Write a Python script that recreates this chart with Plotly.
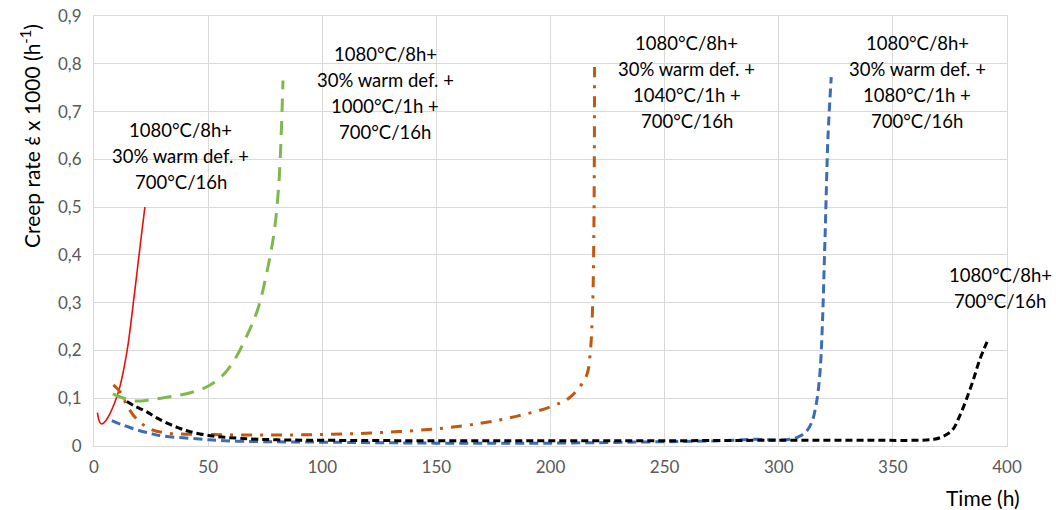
import plotly.graph_objects as go

# ---- data ----
red_x = [1.5, 2.5, 3.5, 5, 7, 9, 11, 13, 15, 17, 19, 21, 22.3]
red_y = [0.07, 0.05, 0.046, 0.052, 0.068, 0.09, 0.118, 0.16, 0.215, 0.29, 0.37, 0.45, 0.5]

green_x = [8.3, 13, 18.8, 25, 33, 41, 49.5, 56, 61, 67.5, 72, 76, 79, 81, 82, 82.5, 82.8]
green_y = [0.109, 0.1, 0.094, 0.097, 0.103, 0.11, 0.124, 0.146, 0.176, 0.236, 0.29, 0.37, 0.45, 0.55, 0.65, 0.72, 0.765]

brown_x = [8.5, 11.5, 15, 19, 25, 32, 50, 75, 100, 125, 150, 170, 185, 200, 208, 213,
           216, 217.5, 218.5, 219, 219.2, 219.3]
brown_y = [0.128, 0.113, 0.08, 0.055, 0.035, 0.027, 0.024, 0.023, 0.024, 0.028, 0.036,
           0.048, 0.062, 0.082, 0.1, 0.125, 0.15, 0.2, 0.3, 0.45, 0.6, 0.793]

blue_x = [7.8, 12, 18.7, 25, 30, 45, 57, 75, 100, 150, 200, 250, 275, 290, 295, 305,
          309, 312, 314.5, 316.5, 318, 319, 320.3, 321.6, 323]
blue_y = [0.053, 0.045, 0.034, 0.026, 0.021, 0.015, 0.011, 0.009, 0.008, 0.006, 0.006,
          0.009, 0.011, 0.014, 0.013, 0.014, 0.02, 0.03, 0.05, 0.09, 0.15, 0.24, 0.44, 0.65, 0.772]

black_x = [14.4, 18, 23, 27, 32, 37, 42, 52, 64, 80, 100, 150, 200, 250, 300, 340, 360,
           368, 372, 376, 379, 382, 385, 388, 392]
black_y = [0.093, 0.083, 0.072, 0.06, 0.048, 0.038, 0.03, 0.021, 0.016, 0.013, 0.012,
           0.011, 0.011, 0.011, 0.012, 0.012, 0.012, 0.014, 0.02, 0.033, 0.06, 0.095, 0.135,
           0.18, 0.226]

x_ticks = [0, 50, 100, 150, 200, 250, 300, 350, 400]
x_tick_labels = ["0", "50", "100", "150", "200", "250", "300", "350", "400"]
y_ticks = [0, 0.1, 0.2, 0.3, 0.4, 0.5, 0.6, 0.7, 0.8, 0.9]
y_tick_labels = ["0", "0,1", "0,2", "0,3", "0,4", "0,5", "0,6", "0,7", "0,8", "0,9"]

labels = [
    ["1080°C/8h+", "30% warm def. +", "700°C/16h"],
    ["1080°C/8h+", "30% warm def. +", "1000°C/1h +", "700°C/16h"],
    ["1080°C/8h+", "30% warm def. +", "1040°C/1h +", "700°C/16h"],
    ["1080°C/8h+", "30% warm def. +", "1080°C/1h +", "700°C/16h"],
    ["1080°C/8h+", "700°C/16h"],
]
label_x = [38.1, 127.5, 259.8, 360.6, 397]
label_y = [0.607, 0.738, 0.761, 0.761, 0.33]

FONT = "Lato, 'Open Sans', sans-serif"

fig = go.Figure()
fig.add_trace(go.Scatter(x=red_x, y=red_y, mode="lines", line_shape="spline",
                         line=dict(color="#e3120b", width=1.6)))
fig.add_trace(go.Scatter(x=green_x, y=green_y, mode="lines", line_shape="spline",
                         line=dict(color="#7fb94d", width=3, dash="14px,9px")))
fig.add_trace(go.Scatter(x=brown_x, y=brown_y, mode="lines", line_shape="spline",
                         line=dict(color="#c0580f", width=3, dash="11px,8px,3px,8px")))
fig.add_trace(go.Scatter(x=blue_x, y=blue_y, mode="lines", line_shape="spline",
                         line=dict(color="#3d6cb4", width=3, dash="9px,5px")))
fig.add_trace(go.Scatter(x=black_x, y=black_y, mode="lines", line_shape="spline",
                         line=dict(color="#000000", width=3, dash="7px,4px")))

LINE_STEP = 26
for lines, lx, ly in zip(labels, label_x, label_y):
    n = len(lines)
    for i, t in enumerate(lines):
        fig.add_annotation(x=lx, y=ly, xref="x", yref="y", text=t, showarrow=False,
                           xanchor="center", yanchor="middle",
                           yshift=-(i - (n - 1) / 2) * LINE_STEP,
                           font=dict(family=FONT, size=18.5, color="#000000"))

# axis titles as annotations
fig.add_annotation(xref="paper", yref="paper", x=(30 - 94) / 913, y=(446 - 136) / 430,
                   text="Creep rate έ x 1000 (h<sup>-1</sup>)", textangle=-90,
                   showarrow=False, xanchor="center", yanchor="middle",
                   font=dict(family=FONT, size=21, color="#000000"))
fig.add_annotation(xref="paper", yref="paper", x=(983 - 94) / 913, y=(446 - 497) / 430,
                   text="Time (h)", showarrow=False, xanchor="center", yanchor="middle",
                   font=dict(family=FONT, size=21, color="#000000"))

fig.update_layout(
    width=1056, height=510,
    margin=dict(l=94, r=49, t=16, b=64, autoexpand=False),
    paper_bgcolor="white", plot_bgcolor="white",
    showlegend=False,
    font=dict(family=FONT),
)
fig.update_xaxes(range=[0, 400], tickvals=x_ticks, ticktext=x_tick_labels,
                 automargin=False,
                 showgrid=True, gridcolor="#d9d9d9", gridwidth=1,
                 showline=True, linecolor="#d9d9d9", mirror=True, zeroline=False,
                 ticks="outside", ticklen=6, tickcolor="rgba(0,0,0,0)",
                 tickfont=dict(family=FONT, size=17, color="#595959"))
fig.update_yaxes(range=[0, 0.9], tickvals=y_ticks, ticktext=y_tick_labels,
                 automargin=False,
                 showgrid=True, gridcolor="#d9d9d9", gridwidth=1,
                 showline=True, linecolor="#d9d9d9", mirror=True, zeroline=False,
                 ticks="outside", ticklen=8, tickcolor="rgba(0,0,0,0)",
                 tickfont=dict(family=FONT, size=17, color="#595959"))

fig.write_html("out.html", config={"displayModeBar": False},
               post_script="document.body.style.margin='0';document.body.style.padding='0';")
